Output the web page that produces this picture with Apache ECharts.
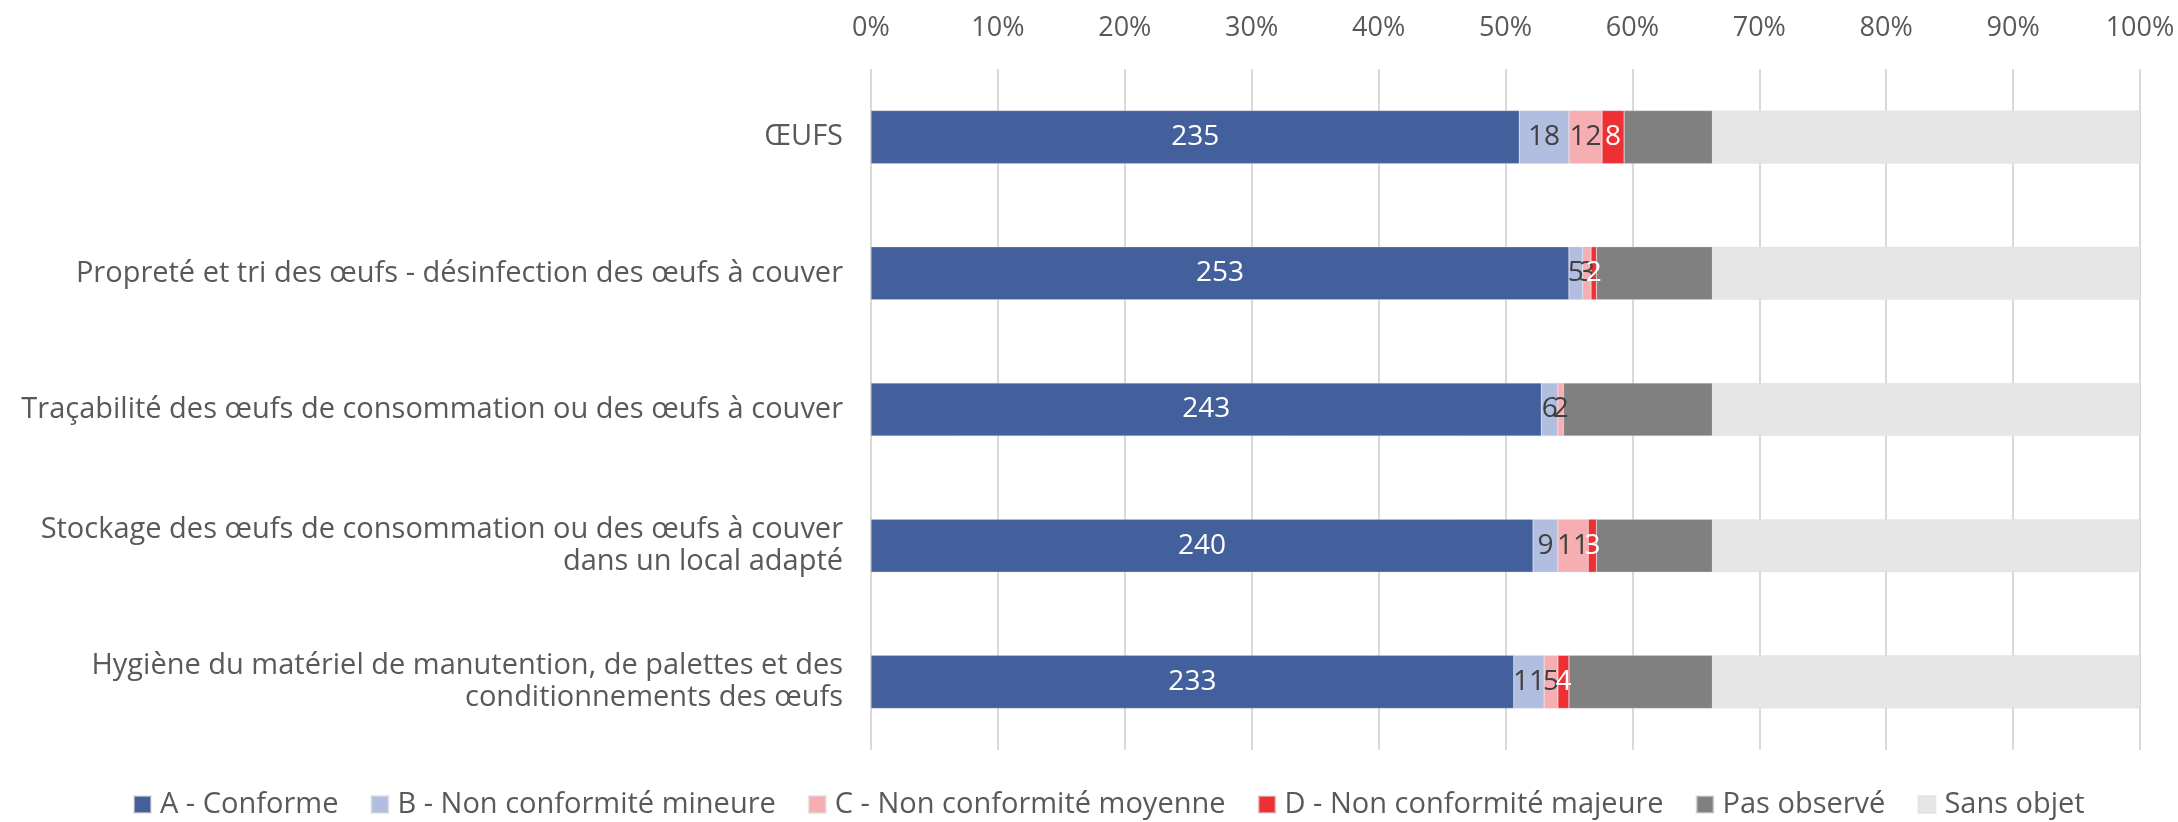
<!DOCTYPE html>
<html>
<head>
<meta charset="utf-8">
<script src="https://cdn.jsdelivr.net/npm/echarts@6/dist/echarts.min.js"></script>
<style>html,body{margin:0;padding:0;background:#fff;}#c{width:2178px;height:822px;}</style>
</head>
<body>
<div id="c"></div>
<script>
const categories = [
  "ŒUFS",
  "Propreté et tri des œufs - désinfection des œufs à couver",
  "Traçabilité des œufs de consommation ou des œufs à couver",
  "Stockage des œufs de consommation ou des œufs à couver\ndans un local adapté",
  "Hygiène du matériel de manutention, de palettes et des\nconditionnements des œufs"
];
const seriesNames = ["A - Conforme", "B - Non conformité mineure", "C - Non conformité moyenne", "D - Non conformité majeure", "Pas observé", "Sans objet"];
const conforme = [235, 253, 243, 240, 233];
const mineure = [18, 5, 6, 9, 11];
const moyenne = [12, 3, 2, 11, 5];
const majeure = [8, 2, 0, 3, 4];
const pasObserve = [32, 42, 54, 42, 52];
const sansObjet = [155, 155, 155, 155, 155];
const xTickLabels = ["0%","10%","20%","30%","40%","50%","60%","70%","80%","90%","100%"];

const colors = ["#44609c", "#b1bedf", "#f7aeb2", "#ee3035", "#808080", "#e6e6e6"];
const labelColors = ["#ffffff", "#404040", "#404040", "#ffffff", null, null];
const raw = [conforme, mineure, moyenne, majeure, pasObserve, sansObjet];
const totals = categories.map((_, i) => raw.reduce((s, arr) => s + arr[i], 0));

const FONT = "Open Sans";
const FS = 27;
const series = raw.map((arr, k) => ({
  name: seriesNames[k],
  type: "bar",
  stack: "total",
  barCategoryGap: "61%",
  itemStyle: { color: colors[k], borderColor: "rgba(220,220,220,0.6)", borderWidth: 0.5 },
  label: {
    show: labelColors[k] !== null,
    position: "inside",
    color: labelColors[k] || "#404040",
    fontFamily: FONT,
    fontSize: 28,
    formatter: p => { const v = arr[p.dataIndex]; return v > 0 ? String(v) : ""; }
  },
  emphasis: { disabled: true },
  data: arr.map((v, i) => v / totals[i] * 100)
}));

const chart = echarts.init(document.getElementById("c"));
chart.setOption({
  animation: false,
  textStyle: { fontFamily: FONT },
  color: colors,
  grid: { left: 871, right: 38, top: 69, bottom: 72, containLabel: false },
  xAxis: {
    type: "value",
    position: "top",
    min: 0, max: 100, interval: 10,
    axisLine: { show: false },
    axisTick: { show: false },
    splitLine: { show: true, lineStyle: { color: "#d9d9d9", width: 2 } },
    axisLabel: {
      color: "#595959", fontSize: FS, fontFamily: FONT, margin: 27,
      formatter: v => xTickLabels[Math.round(v / 10)]
    }
  },
  yAxis: {
    type: "category",
    inverse: true,
    data: categories,
    axisLine: { show: false },
    axisTick: { show: false },
    axisLabel: { color: "#595959", fontSize: 29, fontFamily: FONT, margin: 28, lineHeight: 32, align: "right" }
  },
  legend: {
    bottom: -2,
    left: 128,
    itemWidth: 17, itemHeight: 17, itemGap: 32,
    icon: "rect",
    textStyle: { color: "#595959", fontSize: 29, fontFamily: FONT, padding: [0, 0, 0, 4] },
    data: seriesNames
  },
  series: series
});
</script>
</body>
</html>
